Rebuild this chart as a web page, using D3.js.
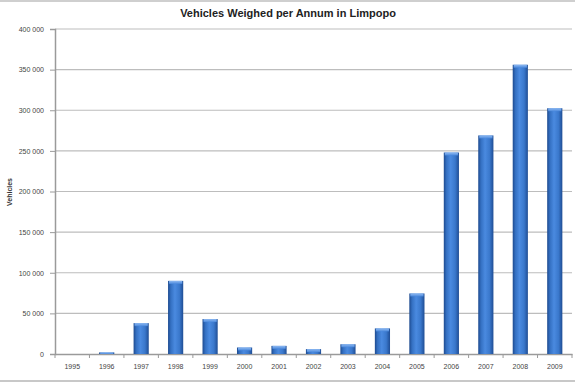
<!DOCTYPE html>
<html>
<head>
<meta charset="utf-8">
<script src="https://cdn.jsdelivr.net/npm/d3@7"></script>
<style>
  body { margin: 0; background: #fff; }
  svg { font-family: "Liberation Sans", Arial, sans-serif; display: block; }
</style>
</head>
<body>
<svg id="chart"></svg>
<script>
// Chart data
var years = ["1995", "1996", "1997", "1998", "1999", "2000", "2001", "2002",
             "2003", "2004", "2005", "2006", "2007", "2008", "2009"];
var vehicles = [0, 2000, 38000, 90000, 43000, 8000, 10000, 6000,
                12000, 31500, 74500, 248000, 269000, 356000, 302500];
var yTicks = [0, 50000, 100000, 150000, 200000, 250000, 300000, 350000, 400000];

var W = 575, H = 382;
var margin = { top: 29, left: 55, bottom: 27, right: 3 };
var width = W - margin.left - margin.right;
var height = H - margin.top - margin.bottom - 1;

var locale = d3.formatLocale({ decimal: ".", thousands: " ", grouping: [3], currency: ["", ""] });
var fmt = locale.format(",d");

var data = years.map(function (yr, i) { return { year: yr, value: vehicles[i] }; });

var x = d3.scaleBand().domain(years).range([0, width]).paddingInner(0.56).paddingOuter(0.28);
var y = d3.scaleLinear().domain([0, 400000]).range([height, 0]);

var svg = d3.select("#chart").attr("width", W).attr("height", H);

// frame lines top and bottom
svg.append("rect").attr("x", 0).attr("y", 0).attr("width", W).attr("height", 2).attr("fill", "#cfcfcf");
svg.append("rect").attr("x", 0).attr("y", H - 2).attr("width", W).attr("height", 2).attr("fill", "#c8c8c8");

var defs = svg.append("defs");
var grad = defs.append("linearGradient").attr("id", "barGrad")
    .attr("x1", "0%").attr("x2", "100%").attr("y1", "0%").attr("y2", "0%");
grad.append("stop").attr("offset", "0%").attr("stop-color", "#1d4a8f");
grad.append("stop").attr("offset", "18%").attr("stop-color", "#3470c2");
grad.append("stop").attr("offset", "45%").attr("stop-color", "#4a8ae0");
grad.append("stop").attr("offset", "75%").attr("stop-color", "#3a78cc");
grad.append("stop").attr("offset", "100%").attr("stop-color", "#1f4d94");

var capGrad = defs.append("linearGradient").attr("id", "capGrad")
    .attr("x1", "0%").attr("x2", "0%").attr("y1", "0%").attr("y2", "100%");
capGrad.append("stop").attr("offset", "0%").attr("stop-color", "#8fbaf2");
capGrad.append("stop").attr("offset", "100%").attr("stop-color", "#4a88dc");

// Title
svg.append("text")
    .attr("x", 288).attr("y", 17)
    .attr("text-anchor", "middle")
    .attr("font-size", "11px").attr("font-weight", "bold").attr("fill", "#222")
    .text("Vehicles Weighed per Annum in Limpopo");

var g = svg.append("g").attr("transform", "translate(" + margin.left + "," + margin.top + ")");

// Gridlines
g.selectAll(".grid").data(yTicks.slice(1)).enter().append("line")
    .attr("x1", 0).attr("x2", width)
    .attr("y1", function (d) { return y(d); }).attr("y2", function (d) { return y(d); })
    .attr("stroke", "#bdbdbd").attr("stroke-width", 1.2);

// Y axis
var yAxis = d3.axisLeft(y).tickValues(yTicks).tickFormat(fmt).tickSize(5).tickPadding(6);
var ya = g.append("g").call(yAxis);
ya.select(".domain").attr("stroke", "#9a9a9a").attr("stroke-width", 1.5);
ya.selectAll(".tick line").attr("stroke", "#9a9a9a");
ya.selectAll("text").attr("font-size", "7px").attr("fill", "#444");

// X axis
var xAxis = d3.axisBottom(x).tickSize(0).tickPadding(10);
var xa = g.append("g").attr("transform", "translate(0," + height + ")").call(xAxis);
xa.select(".domain").attr("stroke", "#9a9a9a").attr("stroke-width", 1.5);
xa.selectAll("text").attr("font-size", "7px").attr("fill", "#444");
// ticks at band boundaries
xa.selectAll(".bnd").data(d3.range(years.length + 1)).enter().append("line")
    .attr("x1", function (i) { return i * width / years.length; })
    .attr("x2", function (i) { return i * width / years.length; })
    .attr("y1", 0).attr("y2", 4)
    .attr("stroke", "#9a9a9a");

// Y axis label
svg.append("text")
    .attr("transform", "translate(12," + 192 + ") rotate(-90)")
    .attr("text-anchor", "middle")
    .attr("font-size", "7px").attr("font-weight", "bold").attr("fill", "#333")
    .text("Vehicles");

// Bars
var bars = g.selectAll(".bar").data(data).enter().append("g").attr("class", "bar");
bars.append("rect")
    .attr("x", function (d) { return x(d.year); })
    .attr("y", function (d) { return y(d.value); })
    .attr("width", x.bandwidth())
    .attr("height", function (d) { return height - y(d.value); })
    .attr("fill", "url(#barGrad)");
bars.filter(function (d) { return d.value > 0; }).append("rect")
    .attr("x", function (d) { return x(d.year) + 1; })
    .attr("y", function (d) { return y(d.value); })
    .attr("width", x.bandwidth() - 2)
    .attr("height", function (d) { return Math.min(3, height - y(d.value)); })
    .attr("fill", "url(#capGrad)");
</script>
</body>
</html>
